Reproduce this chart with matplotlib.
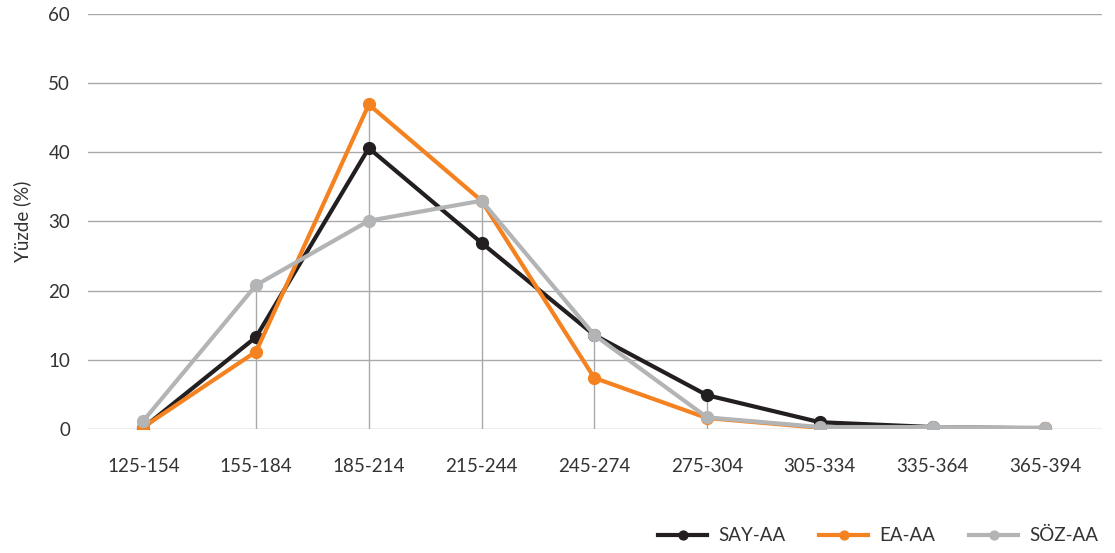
import numpy as np
import matplotlib.pyplot as plt

plt.rcParams['font.family'] = ['Lato', 'DejaVu Sans']

categories = ['125-154', '155-184', '185-214', '215-244', '245-274',
              '275-304', '305-334', '335-364', '365-394']
say_aa = [0.2, 13.3, 40.6, 26.9, 13.6, 4.9, 1.0, 0.3, 0.1]
ea_aa = [0.3, 11.2, 46.9, 33.0, 7.4, 1.6, 0.2, 0.1, 0.1]
soz_aa = [1.2, 20.8, 30.1, 33.0, 13.6, 1.7, 0.3, 0.3, 0.2]
yticks = [0, 10, 20, 30, 40, 50, 60]

series = [
    ('SAY-AA', say_aa, '#231f20'),
    ('EA-AA', ea_aa, '#f58220'),
    ('SÖZ-AA', soz_aa, '#b3b4b6'),
]

text_color = '#333333'
grid_color = '#a9a9a9'

fig = plt.figure(figsize=(11.15, 5.53), dpi=100)
ax = fig.add_axes([0.079, 0.224, 0.909, 0.751])

x = np.arange(len(categories))

# horizontal grid
for yv in yticks:
    ax.axhline(yv, color=grid_color, lw=1, zorder=0)

# drop lines from the axis up to the highest series
tops = np.max([say_aa, ea_aa, soz_aa], axis=0)
ax.vlines(x, 0, tops, color=grid_color, lw=1, zorder=0)

for name, vals, col in series:
    ax.plot(x, vals, color=col, lw=3, marker='o', markersize=8.5,
            label=name, zorder=3)

ax.set_xlim(-0.49, 8.5)
ax.set_ylim(0, 60)
ax.set_yticks(yticks)
ax.set_xticks(x)
ax.set_xticklabels(categories)
ax.tick_params(axis='both', length=0, labelsize=13.5, labelcolor=text_color)
ax.tick_params(axis='x', pad=21)
ax.tick_params(axis='y', pad=13)
for s in ax.spines.values():
    s.set_visible(False)

ax.set_ylabel('Yüzde (%)', fontsize=13.5, color=text_color, labelpad=12)

leg = fig.legend(loc='lower right', bbox_to_anchor=(1.0, -0.015), ncol=3,
                 frameon=False, fontsize=13.5, handlelength=2.6,
                 columnspacing=1.8, handletextpad=0.6, markerscale=0.75)
for t in leg.get_texts():
    t.set_color(text_color)

fig.savefig('out.png', dpi=100)
